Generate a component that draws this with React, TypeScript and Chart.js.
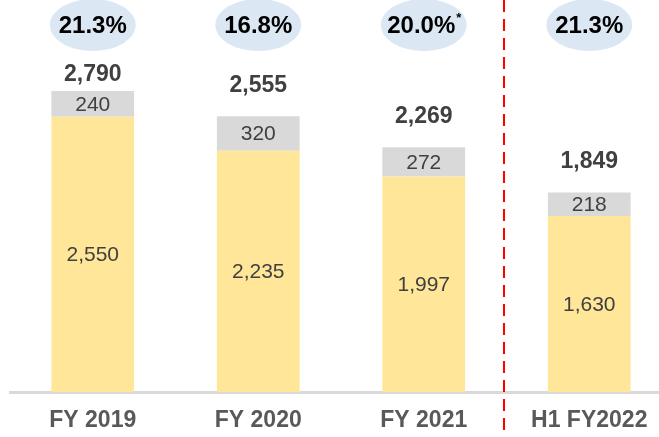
import React, { useEffect, useRef } from 'react';
import { Chart, registerables } from 'chart.js';

Chart.register(...registerables);

const categories = ['FY 2019', 'FY 2020', 'FY 2021', 'H1 FY2022'];
const baseValues = [2550, 2235, 1997, 1630];
const topValues = [240, 320, 272, 218];
const totals = [2790, 2555, 2269, 1849];
const marginLabels = ['21.3%', '16.8%', '20.0%', '21.3%'];
const marginNotes = ['', '', '*', ''];
const dividerAfterIndex = 2;

const FONT = '"Liberation Sans", Arial, Helvetica, sans-serif';
const fmt = (v: number) => v.toLocaleString('en-US');

const ELLIPSE_CY = 25;
const ELLIPSE_RX = 43;
const ELLIPSE_RY = 26;

const labelsPlugin = {
  id: 'customLabels',
  afterDatasetsDraw(chart: any) {
    const ctx = chart.ctx;
    const xs = chart.scales.x;
    const ys = chart.scales.y;
    ctx.save();
    // segment labels
    ctx.textAlign = 'center';
    ctx.textBaseline = 'middle';
    ctx.font = `21px ${FONT}`;
    ctx.fillStyle = '#404040';
    chart.data.datasets.forEach((ds: any, di: number) => {
      const meta = chart.getDatasetMeta(di);
      meta.data.forEach((bar: any, i: number) => {
        const p = bar.getProps(['x', 'y', 'base'], true);
        ctx.fillText(fmt(ds.data[i]), p.x, (p.y + p.base) / 2 + 1);
      });
    });
    // totals
    ctx.font = `bold 23px ${FONT}`;
    ctx.fillStyle = '#404040';
    totals.forEach((t, i) => {
      const cx = xs.getPixelForValue(i);
      const top = ys.getPixelForValue(t);
      const y = Math.max(top - 31, ELLIPSE_CY + ELLIPSE_RY + 24);
      ctx.fillText(fmt(t), cx, y);
    });
    // ellipses
    marginLabels.forEach((m, i) => {
      const cx = xs.getPixelForValue(i);
      ctx.beginPath();
      ctx.ellipse(cx, ELLIPSE_CY, ELLIPSE_RX, ELLIPSE_RY, 0, 0, Math.PI * 2);
      ctx.fillStyle = '#DCE7F4';
      ctx.fill();
      ctx.font = `bold 24px ${FONT}`;
      const w1 = ctx.measureText(m).width;
      ctx.font = `bold 13px ${FONT}`;
      const w2 = marginNotes[i] ? ctx.measureText(marginNotes[i]).width : 0;
      const start = cx - (w1 + w2) / 2;
      ctx.textAlign = 'left';
      ctx.fillStyle = '#000000';
      ctx.font = `bold 24px ${FONT}`;
      ctx.fillText(m, start, ELLIPSE_CY + 1);
      if (marginNotes[i]) {
        ctx.font = `bold 13px ${FONT}`;
        ctx.fillText(marginNotes[i], start + w1 + 1, ELLIPSE_CY - 7);
      }
      ctx.textAlign = 'center';
    });
    ctx.restore();
  },
  afterDraw(chart: any) {
    const ctx = chart.ctx;
    const xs = chart.scales.x;
    const x =
      (xs.getPixelForValue(dividerAfterIndex) + xs.getPixelForValue(dividerAfterIndex + 1)) / 2 - 3;
    ctx.save();
    ctx.strokeStyle = '#FF0000';
    ctx.lineWidth = 2;
    ctx.setLineDash([12, 7]);
    ctx.beginPath();
    ctx.moveTo(Math.round(x), 0);
    ctx.lineTo(Math.round(x), chart.height);
    ctx.stroke();
    ctx.restore();
  },
};

export default function App() {
  const ref = useRef<HTMLCanvasElement | null>(null);
  useEffect(() => {
    if (!ref.current) return;
    const chart = new Chart(ref.current, {
      type: 'bar',
      data: {
        labels: categories,
        datasets: [
          {
            label: 'base',
            data: baseValues,
            backgroundColor: '#FFE699',
            borderWidth: 0,
            categoryPercentage: 1,
            barPercentage: 0.5,
          },
          {
            label: 'top',
            data: topValues,
            backgroundColor: '#D9D9D9',
            borderWidth: 0,
            categoryPercentage: 1,
            barPercentage: 0.5,
          },
        ],
      },
      options: {
        animation: false,
        responsive: false,
        devicePixelRatio: 1,
        layout: { padding: { left: 10, right: 0, top: 0, bottom: 0 } },
        plugins: { legend: { display: false }, tooltip: { enabled: false } },
        scales: {
          x: {
            stacked: true,
            grid: { display: false, drawTicks: false },
            border: { display: true, color: '#D9D9D9', width: 3 },
            ticks: {
              color: '#595959',
              font: { family: FONT, size: 23, weight: 'bold' },
              padding: 15,
            },
            afterFit: (scale: any) => {
              scale.height = 45;
            },
          },
          y: {
            stacked: true,
            display: false,
            min: 0,
            max: 3633,
          },
        },
      },
      plugins: [labelsPlugin],
    } as any);
    return () => chart.destroy();
  }, []);
  return (
    <div
      style={{
        position: 'absolute',
        left: 0,
        top: 0,
        width: 659,
        height: 437,
        overflow: 'hidden',
        background: '#fff',
      }}
    >
      <canvas ref={ref} width={672} height={437} style={{ width: 672, height: 437, display: 'block' }} />
    </div>
  );
}
